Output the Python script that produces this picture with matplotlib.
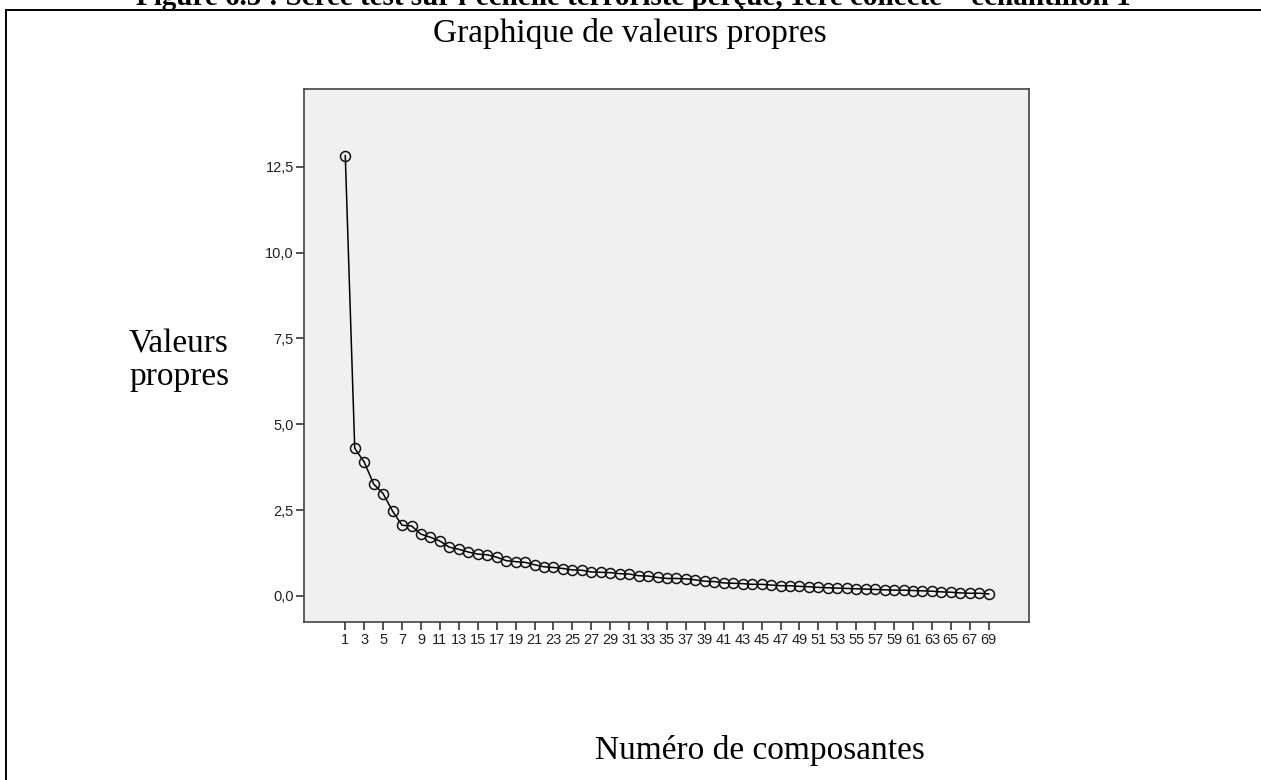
import matplotlib
matplotlib.use("Agg")
import matplotlib.pyplot as plt
from matplotlib.lines import Line2D

components = list(range(1, 70))
eigenvalues = [
    12.82, 4.30, 3.90, 3.26, 2.98, 2.47, 2.06, 2.04, 1.80, 1.71,
    1.60, 1.42, 1.36, 1.28, 1.22, 1.20, 1.13, 1.03, 1.00, 0.98,
    0.91, 0.85, 0.83, 0.80, 0.76, 0.75, 0.70, 0.69, 0.68, 0.65,
    0.64, 0.59, 0.58, 0.54, 0.51, 0.51, 0.50, 0.47, 0.43, 0.42,
    0.38, 0.37, 0.36, 0.34, 0.34, 0.32, 0.30, 0.30, 0.28, 0.27,
    0.25, 0.24, 0.23, 0.22, 0.21, 0.20, 0.19, 0.18, 0.17, 0.17,
    0.16, 0.15, 0.14, 0.12, 0.11, 0.09, 0.08, 0.08, 0.06,
]
y_ticks = [0.0, 2.5, 5.0, 7.5, 10.0, 12.5]
y_tick_labels = ["0,0", "2,5", "5,0", "7,5", "10,0", "12,5"]
x_ticks = list(range(1, 70, 2))

fig_title = "Figure 6.5 : Scree test sur l\u2019échelle terroriste perçue, 1ère collecte \u2013 échantillon 1"
chart_title = "Graphique de valeurs propres"
y_label_lines = ["Valeurs", "propres"]
x_label = "Numéro de composantes"

W, H = 1261, 780
fig = plt.figure(figsize=(W / 100, H / 100), dpi=100)

def fx(px):
    return px / W

def fy(py):
    return 1 - py / H

serif = ["Liberation Serif", "DejaVu Serif"]
sans = ["Liberation Sans", "DejaVu Sans"]

# partially cut figure caption at the very top
fig.text(fx(633), fy(5), fig_title, family=serif, fontweight="bold",
         fontsize=21, ha="center", va="baseline", color="black")

# frame lines of the document box
fig.add_artist(Line2D([fx(6), 1.0], [fy(10), fy(10)], color="black", lw=1.4))
fig.add_artist(Line2D([fx(6), fx(6)], [fy(10), 0.0], color="black", lw=1.4))

fig.text(fx(630), fy(42), chart_title, family=serif, fontsize=24,
         ha="center", va="baseline", color="black")
fig.text(fx(129), fy(353), y_label_lines[0], family=serif, fontsize=24,
         ha="left", va="baseline", color="black")
fig.text(fx(129), fy(385), y_label_lines[1], family=serif, fontsize=24,
         ha="left", va="baseline", color="black")
fig.text(fx(595), fy(759), x_label, family=serif, fontsize=24,
         ha="left", va="baseline", color="black")

ax = fig.add_axes([fx(304.3), fy(622), fx(1029.3) - fx(304.3), fy(89) - fy(622)])
ax.set_facecolor("#f0f0f0")
ax.plot(components, eigenvalues, color="black", lw=1.1,
        marker="o", markersize=7.2, markerfacecolor="none",
        markeredgecolor="#111111", markeredgewidth=1.1)

ax.set_xlim(-3.33, 73.29)
ax.set_ylim(-0.757, 14.76)
ax.set_yticks(y_ticks)
ax.set_yticklabels(y_tick_labels)
ax.set_xticks(x_ticks)
ax.set_xticklabels([str(v) for v in x_ticks])

for sp in ax.spines.values():
    sp.set_color("#444444")
    sp.set_linewidth(1.2)

ax.tick_params(axis="both", direction="out", length=6, width=1.1,
               colors="#222222", labelsize=10.5)
for lab in ax.get_xticklabels() + ax.get_yticklabels():
    lab.set_family(sans)
ax.tick_params(axis="y", pad=1.5)
ax.tick_params(axis="x", pad=2)

fig.savefig("out.png", dpi=100)
